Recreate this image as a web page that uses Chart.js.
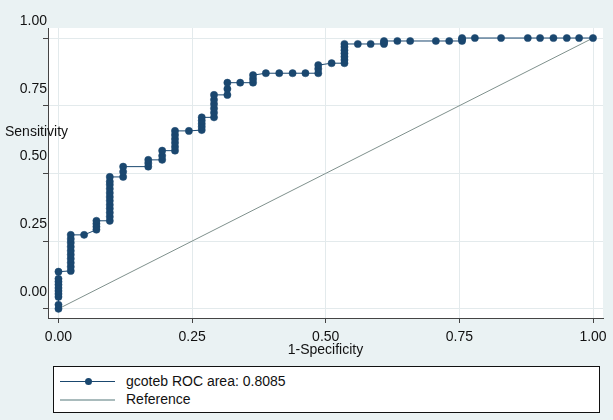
<!DOCTYPE html>
<html>
<head>
<meta charset="utf-8">
<script src="https://cdn.jsdelivr.net/npm/chart.js@4.4.1/dist/chart.umd.min.js"></script>
<style>
  html, body { margin: 0; padding: 0; background: #eaf2f3; }
  #wrap { position: relative; width: 613px; height: 420px; font-family: "Liberation Sans", Arial, sans-serif; color: #111; }
  #ytitle { position: absolute; left: 5px; top: 122px; font-size: 14px; line-height: 18px; }
  #legend { position: absolute; left: 53px; top: 366px; width: 547px; height: 47px; border: 1px solid #111; background: #fff; box-sizing: border-box; }
  .row { position: absolute; left: 0; width: 100%; height: 18px; font-size: 14px; line-height: 18px; }
  .sample { position: absolute; left: 6px; width: 55px; top: 9px; height: 1px; }
  .dot { position: absolute; left: 31px; top: 5.5px; width: 7px; height: 7px; border-radius: 50%; background: #1a476f; }
  .txt { position: absolute; left: 72px; top: 0; white-space: nowrap; }
</style>
</head>
<body>
<div id="wrap">
  <canvas id="rocChart" width="613" height="420"></canvas>
  <div id="ytitle">Sensitivity</div>
  <div id="legend"></div>
</div>
<script>
// one entry per step of the ROC curve (1-specificity), with the sensitivities stacked at it
const rocFpr = [0, 0.023, 0.048, 0.071, 0.096, 0.121, 0.168, 0.194, 0.218, 0.244,
  0.268, 0.291, 0.316, 0.340, 0.364, 0.388, 0.413, 0.438, 0.462, 0.486,
  0.511, 0.535, 0.560, 0.584, 0.609, 0.634, 0.658, 0.706, 0.731, 0.755,
  0.779, 0.828, 0.878, 0.901, 0.926, 0.951, 0.974, 1];
const rocTpr = [
  [0, 0.015, 0.044, 0.055, 0.066, 0.077, 0.089, 0.100, 0.111, 0.137],
  [0.140, 0.155, 0.170, 0.185, 0.200, 0.214, 0.229, 0.244, 0.258, 0.273],
  [0.273],
  [0.292, 0.303, 0.314, 0.325],
  [0.325, 0.340, 0.355, 0.370, 0.384, 0.399, 0.413, 0.428, 0.443, 0.458, 0.470, 0.487],
  [0.487, 0.506, 0.525],
  [0.525, 0.538, 0.550],
  [0.550, 0.565, 0.584],
  [0.584, 0.598, 0.613, 0.627, 0.642, 0.657],
  [0.657],
  [0.660, 0.672, 0.683, 0.695, 0.707],
  [0.707, 0.724, 0.740, 0.756, 0.772, 0.790],
  [0.790, 0.812, 0.835],
  [0.835],
  [0.835, 0.849, 0.863],
  [0.870], [0.870], [0.870], [0.870],
  [0.870, 0.886, 0.900],
  [0.907],
  [0.907, 0.919, 0.931, 0.943, 0.955, 0.967, 0.978],
  [0.978], [0.978],
  [0.978, 0.984, 0.989],
  [0.989], [0.989], [0.989], [0.989],
  [0.989, 0.995, 1],
  [1], [1], [1], [1], [1], [1], [1], [1]
];
const refX = [0, 1];
const refY = [0, 1];
const tickValues = [0, 0.25, 0.5, 0.75, 1];
const tickLabels = ["0.00", "0.25", "0.50", "0.75", "1.00"];
const seriesLabels = ["gcoteb ROC area: 0.8085", "Reference"];

const navy = "#1a476f";
const refColor = "#7f918d";

const rocPoints = rocFpr.flatMap((x, i) => rocTpr[i].map((y) => ({ x: x, y: y })));
const refPoints = refX.map((x, i) => ({ x: x, y: refY[i] }));

Chart.defaults.font.family = '"Liberation Sans", Arial, sans-serif';
Chart.defaults.font.size = 14;
Chart.defaults.color = "#111";

const background = {
  id: "background",
  beforeDraw(chart) {
    const c = chart.ctx;
    const a = chart.chartArea;
    c.save();
    c.fillStyle = "#eaf2f3";
    c.fillRect(0, 0, chart.width, chart.height);
    c.fillStyle = "#fff";
    c.fillRect(a.left, a.top, a.right - a.left, a.bottom - a.top);
    c.restore();
  },
};

function axis(min, max, extra) {
  return Object.assign({
    type: "linear",
    min: min,
    max: max,
    afterBuildTicks: (s) => { s.ticks = tickValues.map((v) => ({ value: v })); },
    grid: { color: "#e3eaec", tickColor: "#444", tickLength: 5, drawTicks: true },
    border: { color: "#444", width: 1 },
  }, extra);
}

const ctx = document.getElementById("rocChart").getContext("2d");
const rocChart = new Chart(ctx, {
  type: "scatter",
  data: {
    datasets: [
      {
        label: seriesLabels[0],
        data: rocPoints,
        showLine: true,
        borderColor: navy,
        borderWidth: 1,
        pointRadius: 3.6,
        pointHoverRadius: 3.6,
        pointBackgroundColor: navy,
        pointBorderColor: navy,
        pointBorderWidth: 0.5,
      },
      {
        label: seriesLabels[1],
        data: refPoints,
        showLine: true,
        borderColor: refColor,
        borderWidth: 1,
        pointRadius: 0,
      },
    ],
  },
  options: {
    responsive: false,
    animation: false,
    devicePixelRatio: 1,
    layout: { padding: { top: 28, right: 10, bottom: 61, left: 0 } },
    plugins: {
      legend: { display: false },
      tooltip: { enabled: false },
    },
    scales: {
      x: axis(-0.0196, 1.0187, {
        ticks: { callback: (v, i) => tickLabels[i], padding: 6, maxRotation: 0, autoSkip: false },
        title: { display: true, text: "1-Specificity", padding: { top: 0, bottom: 0 } },
        afterFit: (s) => { s.height = 41; },
      }),
      y: axis(-0.034, 1.037, {
        ticks: { callback: (v, i) => tickLabels[i], padding: -4, labelOffset: -17, autoSkip: false },
        afterFit: (s) => { s.width = 48; },
      }),
    },
  },
  plugins: [background],
});

// legend box, one entry per row as in the Stata graph
const legend = document.getElementById("legend");
const rowTops = [5, 23];
seriesLabels.forEach((label, i) => {
  const row = document.createElement("div");
  row.className = "row";
  row.style.top = rowTops[i] + "px";
  const line = document.createElement("div");
  line.className = "sample";
  if (i === 0) {
    line.style.background = navy;
  } else {
    line.style.background = "#a9bbbc";
    line.style.height = "2px";
    line.style.top = "8.5px";
  }
  row.appendChild(line);
  if (i === 0) {
    const dot = document.createElement("div");
    dot.className = "dot";
    row.appendChild(dot);
  }
  const txt = document.createElement("span");
  txt.className = "txt";
  txt.textContent = label;
  row.appendChild(txt);
  legend.appendChild(row);
});
</script>
</body>
</html>
